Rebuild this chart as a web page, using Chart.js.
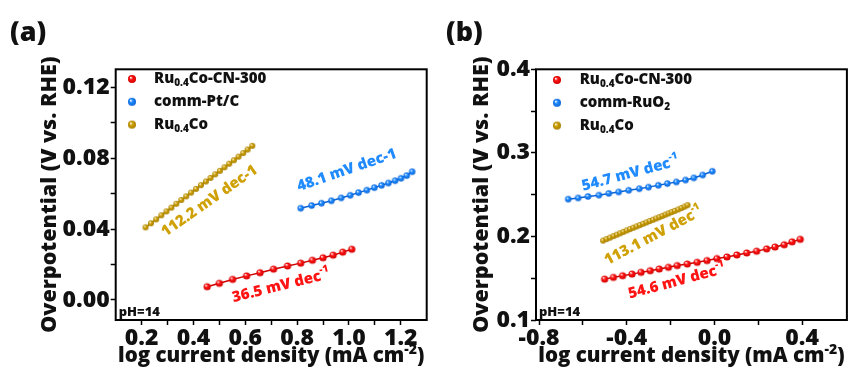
<!DOCTYPE html>
<html>
<head>
<meta charset="utf-8">
<script src="https://cdn.jsdelivr.net/npm/chart.js@4.4.1/dist/chart.umd.min.js"></script>
<style>
  html, body { margin: 0; padding: 0; background: #fff; }
  #wrap { position: relative; width: 852px; height: 369px; }
  canvas { position: absolute; top: 0; }
  #chartA { left: 0; }
  #chartB { left: 432px; }
</style>
</head>
<body>
<div id="wrap">
  <canvas id="chartA" width="432" height="369"></canvas>
  <canvas id="chartB" width="420" height="369"></canvas>
</div>
<script>
// ---- (a) HER Tafel plots ----
const namesA = ['Ru_{0.4}Co-CN-300', 'comm-Pt/C', 'Ru_{0.4}Co'];
const redXA = [0.453, 0.500, 0.551, 0.605, 0.657, 0.709, 0.763, 0.814, 0.859, 0.900, 0.939, 0.976, 1.011];
const redYA = [0.0075, 0.0094, 0.0116, 0.0136, 0.0154, 0.0174, 0.0192, 0.0208, 0.0224, 0.0238, 0.0253, 0.0270, 0.0286];
const blueXA = [0.814, 0.856, 0.894, 0.932, 0.970, 1.005, 1.037, 1.069, 1.098, 1.126, 1.152, 1.178, 1.201, 1.223, 1.244];
const blueYA = [0.0518, 0.0533, 0.0546, 0.0560, 0.0576, 0.0591, 0.0606, 0.0620, 0.0634, 0.0647, 0.0660, 0.0673, 0.0687, 0.0702, 0.0724];
const goldXA = [0.215, 0.236, 0.256, 0.276, 0.296, 0.315, 0.334, 0.353, 0.372, 0.391, 0.410, 0.429,
                0.448, 0.466, 0.484, 0.502, 0.520, 0.538, 0.556, 0.574, 0.592, 0.609, 0.627];
const goldYA = [0.0410, 0.0433, 0.0455, 0.0478, 0.0500, 0.0521, 0.0543, 0.0564, 0.0585, 0.0606, 0.0627, 0.0648,
                0.0669, 0.0689, 0.0709, 0.0729, 0.0749, 0.0769, 0.0789, 0.0809, 0.0829, 0.0849, 0.0870];
const xMajorA = [0.2, 0.4, 0.6, 0.8, 1.0, 1.2];
const xMinorA = [0.3, 0.5, 0.7, 0.9, 1.1];
const yMajorA = [0.00, 0.04, 0.08, 0.12];
const yMinorA = [0.02, 0.06, 0.10];
const slopesA = ['36.5 mV dec^{-1}', '48.1 mV dec-1', '112.2 mV dec-1'];

// ---- (b) OER Tafel plots ----
const namesB = ['Ru_{0.4}Co-CN-300', 'comm-RuO_{2}', 'Ru_{0.4}Co'];
const redXB = [-0.501, -0.461, -0.419, -0.376, -0.335, -0.293, -0.252, -0.210, -0.170, -0.124, -0.079,
               -0.034, 0.011, 0.057, 0.102, 0.147, 0.192, 0.238, 0.276, 0.318, 0.354, 0.391];
const redYB = [0.1489, 0.1510, 0.1530, 0.1549, 0.1570, 0.1590, 0.1610, 0.1630, 0.1651, 0.1670, 0.1690,
               0.1711, 0.1735, 0.1754, 0.1778, 0.1802, 0.1823, 0.1851, 0.1873, 0.1900, 0.1935, 0.1965];
const blueXB = [-0.667, -0.622, -0.577, -0.527, -0.482, -0.437, -0.391, -0.343, -0.301, -0.256, -0.215,
                -0.174, -0.132, -0.094, -0.054, -0.010];
const blueYB = [0.2446, 0.2460, 0.2478, 0.2494, 0.2515, 0.2532, 0.2552, 0.2571, 0.2590, 0.2612, 0.2632,
                0.2652, 0.2675, 0.2700, 0.2735, 0.2780];
const goldXB = [-0.508, -0.492, -0.476, -0.460, -0.445, -0.430, -0.415, -0.400, -0.385, -0.370, -0.355,
                -0.340, -0.325, -0.310, -0.295, -0.280, -0.265, -0.251, -0.237, -0.223, -0.209, -0.195,
                -0.181, -0.165, -0.150, -0.136, -0.123];
const goldYB = [0.1950, 0.1968, 0.1986, 0.2004, 0.2021, 0.2038, 0.2055, 0.2072, 0.2088, 0.2104, 0.2120,
                0.2136, 0.2152, 0.2168, 0.2184, 0.2200, 0.2216, 0.2231, 0.2246, 0.2261, 0.2276, 0.2291,
                0.2306, 0.2323, 0.2340, 0.2357, 0.2374];
const xMajorB = [-0.8, -0.4, 0.0, 0.4];
const xMinorB = [-0.6, -0.2, 0.2];
const yMajorB = [0.1, 0.2, 0.3, 0.4];
const yMinorB = [0.15, 0.25, 0.35];
const slopesB = ['54.6 mV dec^{-1}', '54.7 mV dec^{-1}', '113.1 mV dec^{-1}'];

const RED = '#ff1414', BLUE = '#1f8bff', GOLD = '#cfa106';
const RED_DK = '#d00000', BLUE_DK = '#0a64d6', GOLD_DK = '#a57f00';
const FONT = '"Open Sans", "Noto Sans", sans-serif';
const WEIGHT = '800';
const INK = '#111';

// little shaded ball used as the marker
function makeBall(color, dark, r) {
  const c = document.createElement('canvas');
  const s = Math.ceil(r * 2) + 2;
  c.width = s; c.height = s;
  const g = c.getContext('2d');
  const m = s / 2;
  const grad = g.createRadialGradient(m - r * 0.35, m - r * 0.4, r * 0.05, m, m, r);
  grad.addColorStop(0, '#ffffff');
  grad.addColorStop(0.4, color);
  grad.addColorStop(1, dark);
  g.fillStyle = grad;
  g.beginPath(); g.arc(m, m, r, 0, Math.PI * 2); g.fill();
  return c;
}

// text with _{sub} and ^{sup} parts
function richParts(text) {
  return text.split(/(_\{[^}]*\}|\^\{[^}]*\})/).filter(s => s).map(s => {
    if (s.startsWith('_{')) return { t: s.slice(2, -1), k: 'sub' };
    if (s.startsWith('^{')) return { t: s.slice(2, -1), k: 'sup' };
    return { t: s, k: '' };
  });
}
function drawRich(ctx, text, x, y, size, align) {
  const parts = richParts(text);
  const small = Math.round(size * 0.68);
  const fontFor = k => WEIGHT + ' ' + (k ? small : size) + 'px ' + FONT;
  let w = 0;
  parts.forEach(p => { ctx.font = fontFor(p.k); p.w = ctx.measureText(p.t).width; w += p.w; });
  let cx = align === 'center' ? x - w / 2 : x;
  ctx.textAlign = 'left';
  parts.forEach(p => {
    ctx.font = fontFor(p.k);
    const dy = p.k === 'sub' ? size * 0.3 : p.k === 'sup' ? -size * 0.38 : 0;
    ctx.fillText(p.t, cx, y + dy);
    cx += p.w;
  });
}

function pts(xs, ys) { return xs.map((x, i) => ({ x: x, y: ys[i] })); }

// frame, legend, slope notes and labels drawn on top of the plot
const decorPlugin = {
  id: 'decor',
  afterDraw(chart) {
    const o = chart.options.plugins.decor;
    const ctx = chart.ctx;
    const a = chart.chartArea;
    const sx = chart.scales.x, sy = chart.scales.y;
    ctx.save();
    ctx.strokeStyle = '#000';
    ctx.lineWidth = 2;
    ctx.strokeRect(a.left, a.top, a.right - a.left, a.bottom - a.top);

    ctx.fillStyle = INK;
    ctx.textBaseline = 'alphabetic';
    ctx.font = WEIGHT + ' 27px ' + FONT;
    ctx.textAlign = 'left';
    ctx.fillText(o.panel, o.panelX, 41);

    ctx.font = WEIGHT + ' 13px ' + FONT;
    ctx.fillText('pH=14', a.left + 3, a.bottom - 4);

    drawRich(ctx, 'log current density (mA cm^{-2})', (a.left + a.right) / 2, 362, 20.5, 'center');

    chart.data.datasets.forEach((ds, i) => {
      const ly = a.top + o.legendTop + i * o.legendGap;
      const img = o.legendBalls[i];
      ctx.drawImage(img, a.left + o.legendMarkX - img.width / 2, ly - img.height / 2);
      ctx.fillStyle = INK;
      ctx.textBaseline = 'middle';
      drawRich(ctx, ds.label, a.left + o.legendTextX, ly, 15, 'left');
    });

    o.notes.forEach(n => {
      ctx.save();
      ctx.translate(sx.getPixelForValue(n.x), sy.getPixelForValue(n.y));
      ctx.rotate(n.angle * Math.PI / 180);
      ctx.fillStyle = n.color;
      ctx.textBaseline = 'middle';
      drawRich(ctx, n.text, 0, 0, 15, 'center');
      ctx.restore();
    });
    ctx.restore();
  }
};

function buildChart(id, cfg) {
  const tickFont = { family: FONT, size: 23, weight: WEIGHT };
  const allX = cfg.xMajor.concat(cfg.xMinor).sort((p, q) => p - q);
  const allY = cfg.yMajor.concat(cfg.yMinor).sort((p, q) => p - q);
  const isMajor = (list, v) => list.some(m => Math.abs(m - v) < 1e-9);
  const makeSet = (label, data, color, dark, r) => ({
    label: label,
    data: data,
    showLine: true,
    borderColor: dark,
    borderWidth: 1.5,
    pointStyle: makeBall(color, dark, r),
    pointRadius: r,
    pointHoverRadius: r
  });
  return new Chart(document.getElementById(id), {
    type: 'scatter',
    data: {
      datasets: [
        makeSet(cfg.names[0], cfg.red, RED, RED_DK, 3.6),
        makeSet(cfg.names[1], cfg.blue, BLUE, BLUE_DK, 3.2),
        makeSet(cfg.names[2], cfg.gold, GOLD, GOLD_DK, 3.0)
      ]
    },
    options: {
      responsive: false,
      animation: false,
      layout: { padding: { top: 69.3, right: cfg.padRight, left: 0, bottom: 0 } },
      plugins: {
        legend: { display: false },
        tooltip: { enabled: false },
        decor: {
          panel: cfg.panel, panelX: cfg.panelX,
          legendTop: cfg.legendTop, legendGap: 22.8,
          legendMarkX: cfg.legendMarkX, legendTextX: cfg.legendTextX,
          legendBalls: [makeBall(RED, RED_DK, 4), makeBall(BLUE, BLUE_DK, 4), makeBall(GOLD, GOLD_DK, 4)],
          notes: cfg.notes
        }
      },
      scales: {
        x: {
          type: 'linear',
          min: cfg.xMin, max: cfg.xMax,
          afterBuildTicks: s => { s.ticks = allX.map(v => ({ value: v })); },
          afterFit: s => { s.height = 49; },
          grid: { drawOnChartArea: false, drawTicks: true, tickLength: 5, tickColor: '#000', tickWidth: 1.5 },
          border: { display: false },
          ticks: {
            autoSkip: false, maxRotation: 0, padding: 0, color: INK, font: tickFont,
            callback: v => isMajor(cfg.xMajor, v) ? v.toFixed(1) : ''
          }
        },
        y: {
          type: 'linear',
          min: cfg.yMin, max: cfg.yMax,
          afterBuildTicks: s => { s.ticks = allY.map(v => ({ value: v })); },
          afterFit: s => { s.width = cfg.yWidth; },
          grid: { drawOnChartArea: false, drawTicks: true, tickLength: 5, tickColor: '#000', tickWidth: 1.5 },
          border: { display: false },
          title: {
            display: true, text: 'Overpotential (V vs. RHE)', color: INK,
            font: { family: FONT, size: 21.5, weight: WEIGHT },
            padding: { top: cfg.titlePad, bottom: 0 }
          },
          ticks: {
            autoSkip: false, padding: 1, color: INK, font: tickFont,
            callback: v => isMajor(cfg.yMajor, v) ? v.toFixed(cfg.yDigits) : ''
          }
        }
      }
    },
    plugins: [decorPlugin]
  });
}

buildChart('chartA', {
  panel: '(a)', panelX: 10,
  names: namesA,
  red: pts(redXA, redYA), blue: pts(blueXA, blueYA), gold: pts(goldXA, goldYA),
  xMin: 0.1, xMax: 1.3, yMin: -0.0113, yMax: 0.1302,
  xMajor: xMajorA, xMinor: xMinorA, yMajor: yMajorA, yMinor: yMinorA, yDigits: 2,
  yWidth: 115.7, padRight: 5.3, titlePad: 37,
  legendTop: 9.7, legendMarkX: 16.3, legendTextX: 38.3,
  notes: [
    { x: 0.738, y: 0.0079, angle: -14, text: slopesA[0], color: RED },
    { x: 0.992, y: 0.0732, angle: -19, text: slopesA[1], color: BLUE },
    { x: 0.462, y: 0.0558, angle: -35, text: slopesA[2], color: GOLD }
  ]
});

buildChart('chartB', {
  panel: '(b)', panelX: 14,
  names: namesB,
  red: pts(redXB, redYB), blue: pts(blueXB, blueYB), gold: pts(goldXB, goldYB),
  xMin: -0.814, xMax: 0.604, yMin: 0.1, yMax: 0.4,
  xMajor: xMajorB, xMinor: xMinorB, yMajor: yMajorB, yMinor: yMinorB, yDigits: 1,
  yWidth: 104, padRight: 2.7, titlePad: 37,
  legendTop: 10.7, legendMarkX: 21, legendTextX: 43.7,
  notes: [
    { x: -0.171, y: 0.146, angle: -15, text: slopesB[0], color: RED },
    { x: -0.383, y: 0.275, angle: -15, text: slopesB[1], color: BLUE },
    { x: -0.278, y: 0.2005, angle: -28, text: slopesB[2], color: GOLD }
  ]
});
</script>
</body>
</html>
